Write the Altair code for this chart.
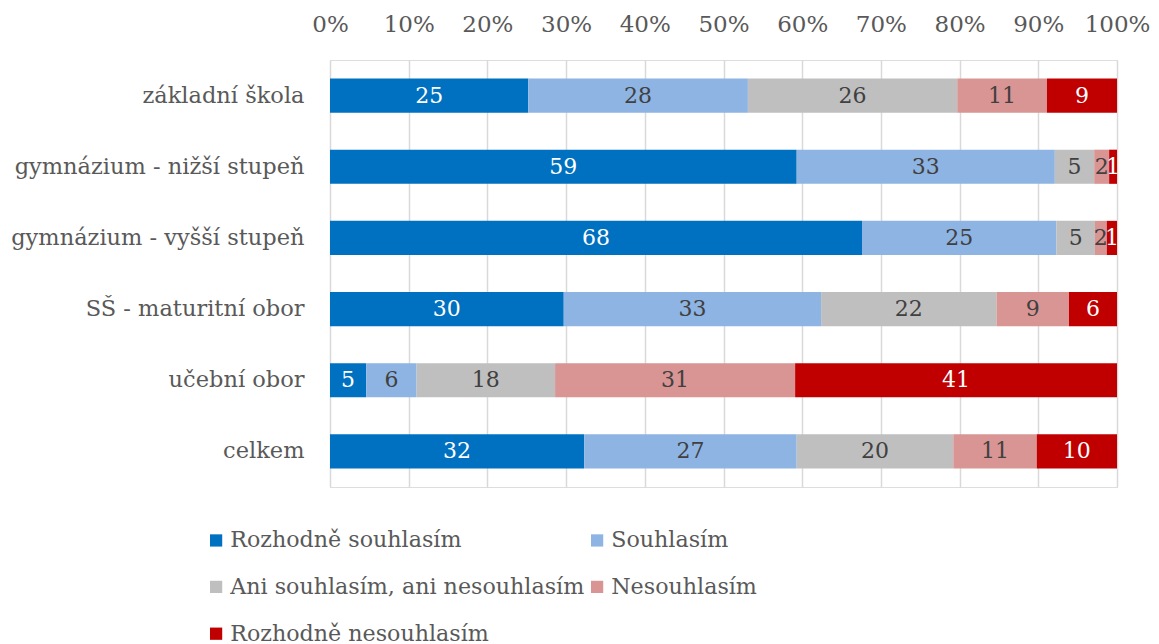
import altair as alt
import pandas as pd

categories = ["základní škola", "gymnázium - nižší stupeň", "gymnázium - vyšší stupeň",
              "SŠ - maturitní obor", "učební obor", "celkem"]
series = ["Rozhodně souhlasím", "Souhlasím", "Ani souhlasím, ani nesouhlasím",
          "Nesouhlasím", "Rozhodně nesouhlasím"]

# bar lengths (percent)
rozhodne_souhlasim = [25.2, 59.3, 67.6, 29.7, 4.6, 32.3]
souhlasim = [27.9, 32.8, 24.7, 32.7, 6.4, 27.0]
ani = [26.6, 5.0, 4.9, 22.3, 17.6, 19.9]
nesouhlasim = [11.4, 1.9, 1.5, 9.2, 30.5, 10.6]
rozhodne_nesouhlasim = [8.9, 1.0, 1.3, 6.1, 40.9, 10.2]

# printed labels
lab_rs = [25, 59, 68, 30, 5, 32]
lab_s = [28, 33, 25, 33, 6, 27]
lab_a = [26, 5, 5, 22, 18, 20]
lab_n = [11, 2, 2, 9, 31, 11]
lab_rn = [9, 1, 1, 6, 41, 10]

colors = ["#0070C0", "#8EB4E3", "#BFBFBF", "#D99594", "#C00000"]
text_colors = ["#FFFFFF", "#404040", "#404040", "#404040", "#FFFFFF"]

vals = [rozhodne_souhlasim, souhlasim, ani, nesouhlasim, rozhodne_nesouhlasim]
labs = [lab_rs, lab_s, lab_a, lab_n, lab_rn]

rows = []
for si, s in enumerate(series):
    for ci, c in enumerate(categories):
        rows.append({"category": c, "series": s, "order": si,
                     "value": vals[si][ci], "label": str(labs[si][ci]),
                     "tcolor": text_colors[si]})
df = pd.DataFrame(rows)

FONT = "DejaVu Serif"
FS = 22.5

base = alt.Chart(df).transform_stack(
    stack="value", groupby=["category"], as_=["x0", "x1"],
    offset="normalize", sort=[alt.SortField("order", order="ascending")]
).transform_calculate(mid="(datum.x0 + datum.x1) / 2")

yenc = alt.Y("category:N", sort=categories, title=None,
             scale=alt.Scale(paddingInner=0.52, paddingOuter=0.26),
             axis=alt.Axis(labelFont=FONT, labelFontSize=FS, labelColor="#595959",
                           labelPadding=26, ticks=False, domain=False, labelLimit=400))

bars = base.mark_bar().encode(
    x=alt.X("x0:Q", scale=alt.Scale(domain=[0, 1], nice=False),
            axis=alt.Axis(orient="top", format=".0%", values=[i / 10 for i in range(11)],
                          labelFont=FONT, labelFontSize=23, labelColor="#595959",
                          labelPadding=24, ticks=False, domain=False, labelOverlap=False,
                          labelFlush=False,
                          gridColor="#D9D9D9", gridWidth=1.5, title=None)),
    x2="x1:Q",
    y=yenc,
    color=alt.Color("series:N", sort=series,
                    scale=alt.Scale(domain=series, range=colors),
                    legend=alt.Legend(title=None, orient="none", legendX=-125, legendY=469,
                                      columns=2, direction="horizontal",
                                      labelFont=FONT, labelFontSize=22.2, labelColor="#595959",
                                      symbolType="square", symbolSize=150, symbolStrokeWidth=0,
                                      labelOffset=3, rowPadding=23.8, columnPadding=1,
                                      labelLimit=500)),
    order=alt.Order("order:Q"),
)

texts = base.mark_text(font=FONT, fontSize=22, baseline="middle", align="center").encode(
    x="mid:Q",
    y=alt.Y("category:N", sort=categories),
    text="label:N",
    fill=alt.Fill("tcolor:N", scale=None),
)

chart = alt.layer(bars, texts).resolve_scale(color="independent").properties(
    width=787, height=427,
    autosize=alt.AutoSizeParams(type="none"),
    padding={"left": 322, "top": 52, "right": 34, "bottom": 157},
).configure_view(strokeWidth=0).configure(background="white")

chart.save("out.html", embed_options={"renderer": "svg", "actions": False})
